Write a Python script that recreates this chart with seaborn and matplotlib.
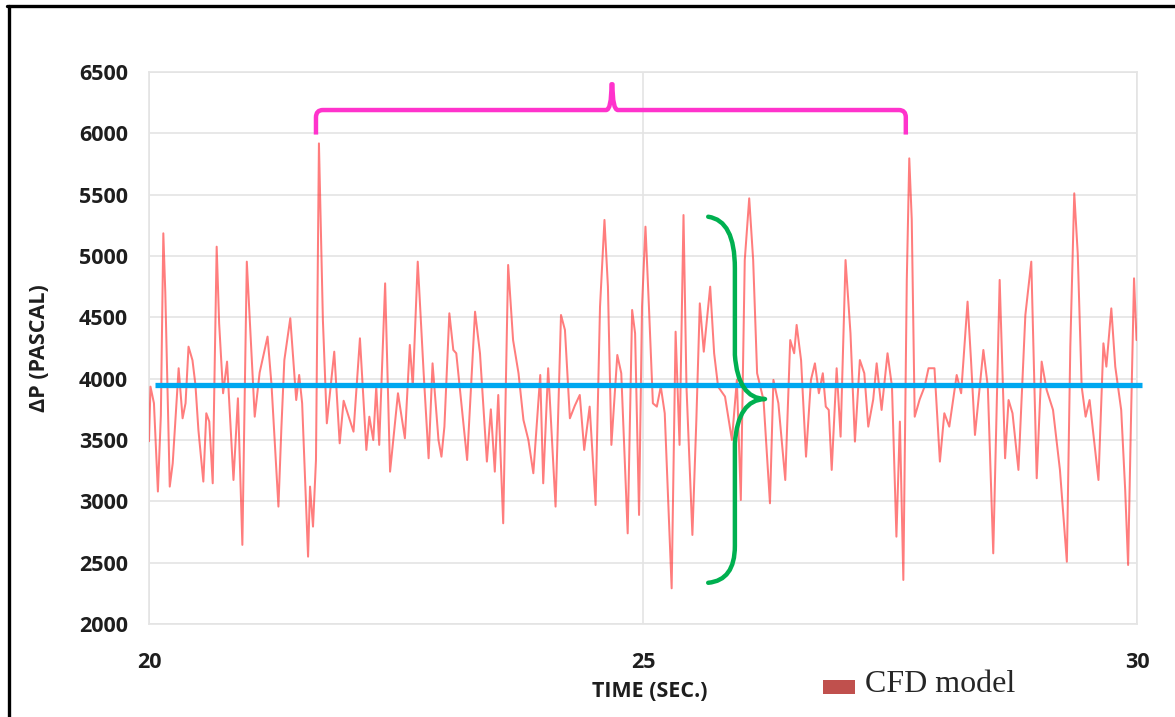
import numpy as np
import pandas as pd
import matplotlib
matplotlib.use("Agg")
import matplotlib.pyplot as plt
import seaborn as sns
from matplotlib.path import Path
from matplotlib.patches import PathPatch, Patch, Rectangle
from matplotlib.lines import Line2D
from matplotlib.legend_handler import HandlerPatch

# ---------------- data ----------------
time_s = [20.00, 20.015, 20.05, 20.09, 20.12, 20.145, 20.165, 20.21, 20.24, 20.30,
          20.34, 20.37, 20.40, 20.44, 20.47, 20.50, 20.55, 20.58, 20.61, 20.645,
          20.685, 20.71, 20.75, 20.79, 20.855, 20.90, 20.945, 20.99, 21.02, 21.07,
          21.12, 21.20, 21.24, 21.31, 21.34, 21.37, 21.43, 21.49, 21.52, 21.55,
          21.61, 21.63, 21.66, 21.69, 21.72, 21.76, 21.80, 21.875, 21.93, 21.97,
          22.07, 22.135, 22.20, 22.23, 22.27, 22.30, 22.33, 22.39, 22.44, 22.52,
          22.59, 22.64, 22.67, 22.72, 22.78, 22.83, 22.87, 22.93, 22.96, 22.99,
          23.04, 23.08, 23.11, 23.22, 23.30, 23.35, 23.42, 23.46, 23.50, 23.535,
          23.585, 23.635, 23.685, 23.74, 23.79, 23.84, 23.89, 23.96, 23.99, 24.04,
          24.115, 24.17, 24.21, 24.26, 24.31, 24.36, 24.405, 24.46, 24.52, 24.565,
          24.61, 24.645, 24.68, 24.74, 24.78, 24.845, 24.89, 24.92, 24.96, 24.99,
          25.025, 25.06, 25.10, 25.14, 25.18, 25.22, 25.29, 25.33, 25.37, 25.41,
          25.44, 25.50, 25.54, 25.575, 25.615, 25.68, 25.72, 25.76, 25.83, 25.90,
          25.95, 25.99, 26.03, 26.075, 26.115, 26.155, 26.22, 26.285, 26.32, 26.37,
          26.44, 26.49, 26.53, 26.555, 26.60, 26.65, 26.70, 26.74, 26.78, 26.82,
          26.85, 26.88, 26.91, 26.96, 27.00, 27.05, 27.10, 27.145, 27.195, 27.24,
          27.28, 27.33, 27.365, 27.415, 27.475, 27.52, 27.565, 27.60, 27.635, 27.67,
          27.695, 27.72, 27.75, 27.80, 27.85, 27.89, 27.95, 28.005, 28.05, 28.10,
          28.175, 28.22, 28.285, 28.32, 28.36, 28.445, 28.49, 28.545, 28.61, 28.665,
          28.70, 28.74, 28.80, 28.87, 28.93, 28.985, 29.035, 29.085, 29.15, 29.22,
          29.29, 29.325, 29.365, 29.40, 29.44, 29.48, 29.52, 29.61, 29.66, 29.69,
          29.74, 29.78, 29.84, 29.88, 29.91, 29.94, 29.97, 29.995]

delta_p = [3490, 3935, 3800, 3080, 3700, 5185, 4700, 3120, 3310, 4085,
           3677, 3800, 4261, 4150, 3950, 3582, 3161, 3718, 3650, 3147,
           5076, 4450, 3881, 4139, 3174, 3840, 2645, 4954, 4478, 3690,
           4050, 4343, 3950, 2957, 3600, 4152, 4492, 3826, 4030, 3800,
           2549, 3120, 2794, 3337, 5918, 4478, 3636, 4220, 3473, 3820,
           3568, 4329, 3419, 3690, 3500, 3935, 3460, 4777, 3242, 3881,
           3514, 4275, 3935, 4954, 4044, 3351, 4125, 3500, 3364, 3609,
           4533, 4234, 4207, 3337, 4546, 4207, 3324, 3750, 3242, 3867,
           2821, 4927, 4315, 4044, 3663, 3500, 3229, 4030, 3147, 4085,
           2957, 4519, 4397, 3677, 3780, 3867, 3419, 3772, 2970, 4587,
           5294, 4750, 3460, 4193, 4044, 2739, 4560, 4370, 2889, 4587,
           5239, 4587, 3799, 3772, 3935, 3718, 2291, 4383, 3460, 5334,
           3935, 2726, 3663, 4614, 4220, 4750, 4207, 3935, 3854, 3500,
           3990, 3011, 4967, 5470, 4967, 4044, 3826, 2984, 3990, 3800,
           3174, 4315, 4207, 4438, 4150, 3364, 3990, 4125, 3881, 4044,
           3772, 3745, 3256, 4085, 3527, 4967, 4370, 3487, 4152, 4044,
           3609, 3830, 4125, 3745, 4207, 3935, 2712, 3650, 2359, 4805,
           5796, 5300, 3690, 3830, 3935, 4085, 4085, 3324, 3718, 3609,
           4030, 3881, 4628, 4150, 3541, 4234, 3935, 2576, 4805, 3351,
           3826, 3718, 3256, 4519, 4954, 3188, 4139, 3910, 3745, 3256,
           2508, 4261, 5511, 5022, 3935, 3690, 3826, 3174, 4288, 4098,
           4573, 4098, 3745, 3100, 2481, 3700, 4818, 4315]

mean_dp = 3950
mean_span = [20.06, 30.05]

x_ticks = [20, 25, 30]
y_ticks = [2000, 2500, 3000, 3500, 4000, 4500, 5000, 5500, 6000, 6500]
series_label = "CFD model"
x_label = "TIME (SEC.)"
y_label = "ΔP (PASCAL)"

# annotation shapes (magenta bracket, green brace) in data units
brk_left, brk_right, brk_mid = 21.69, 27.66, 24.686
brk_level, brk_foot, brk_tip = 6190, 5990, 6400
brace_x0, brace_x1, brace_tip_x = 25.66, 25.93, 26.235
brace_top, brace_bot, brace_mid = 5320, 2336, 3834

# ---------------- figure ----------------
sns.set_theme(style="whitegrid")
plt.rcParams['font.family'] = ['Open Sans', 'DejaVu Sans']

W, H = 1175, 717
fig = plt.figure(figsize=(W / 100, H / 100), dpi=100)
fig.patch.set_facecolor("white")
ax = fig.add_axes([149 / W, 1 - 624 / H, (1137 - 149) / W, (624 - 72) / H])
ax.set_facecolor("white")

df = pd.DataFrame({"t": time_s, "dp": delta_p})
sns.lineplot(data=df, x="t", y="dp", ax=ax, estimator=None, sort=False,
             color="#FF2E2E", alpha=0.62, lw=1.45, zorder=3)

ax.plot(mean_span, [mean_dp, mean_dp], color="#00A8F0", lw=3.8,
        solid_capstyle="butt", clip_on=False, zorder=4)

ax.set_xlim(20, 30)
ax.set_ylim(2000, 6500)
ax.set_xticks(x_ticks)
ax.set_yticks(y_ticks)
ax.grid(True, color="#E4E4E4", lw=1.2)
for s in ax.spines.values():
    s.set_color("#E4E4E4")
    s.set_linewidth(1.2)
ax.tick_params(axis="both", length=0, labelcolor="#1E1E1E", labelsize=15.5)
ax.tick_params(axis="y", pad=15)
ax.tick_params(axis="x", pad=20)
for lab in ax.get_xticklabels() + ax.get_yticklabels():
    lab.set_fontweight("bold")

ax.set_xlabel(x_label, fontsize=15.5, fontweight="bold", color="#1E1E1E")
ax.set_ylabel(y_label, fontsize=15.5, fontweight="bold", color="#1E1E1E")
ax.xaxis.set_label_coords(0.507, -0.103)
ax.yaxis.set_label_coords(-0.1, 0.5)

# magenta bracket
r = 0.07
verts = [(brk_left, brk_foot), (brk_left, brk_level - 60),
         (brk_left, brk_level), (brk_left + r, brk_level),
         (brk_mid - 0.06, brk_level),
         (brk_mid - 0.005, brk_level), (brk_mid - 0.005, brk_tip),
         (brk_mid + 0.005, brk_tip),
         (brk_mid + 0.005, brk_level), (brk_mid + 0.06, brk_level),
         (brk_right - r, brk_level),
         (brk_right, brk_level), (brk_right, brk_level - 60),
         (brk_right, brk_foot)]
codes = [Path.MOVETO, Path.LINETO, Path.CURVE3, Path.CURVE3, Path.LINETO,
         Path.CURVE3, Path.CURVE3, Path.LINETO, Path.CURVE3, Path.CURVE3,
         Path.LINETO, Path.CURVE3, Path.CURVE3, Path.LINETO]
ax.add_patch(PathPatch(Path(verts, codes), fill=False, edgecolor="#FF33CC",
                       lw=3.2, capstyle="butt", joinstyle="round", zorder=5,
                       clip_on=False))

# green curly brace
gverts = [(brace_x0, brace_top),
          (brace_x1, brace_top - 30), (brace_x1, brace_top - 420),
          (brace_x1, brace_mid + 360),
          (brace_x1 + 0.03, brace_mid + 5), (brace_tip_x, brace_mid),
          (brace_x1 + 0.03, brace_mid - 5), (brace_x1, brace_mid - 360),
          (brace_x1, brace_bot + 300),
          (brace_x1, brace_bot + 20), (brace_x0, brace_bot)]
gcodes = [Path.MOVETO, Path.CURVE3, Path.CURVE3, Path.LINETO,
          Path.CURVE3, Path.CURVE3, Path.CURVE3, Path.CURVE3,
          Path.LINETO, Path.CURVE3, Path.CURVE3]
ax.add_patch(PathPatch(Path(gverts, gcodes), fill=False, edgecolor="#00B050",
                       lw=3.2, capstyle="round", joinstyle="round", zorder=5))


# legend: the swatch sits low, near the text baseline
def low_swatch(legend, orig_handle, xdescent, ydescent, width, height, fontsize):
    return Rectangle((-xdescent, -ydescent - 5.2), width, height)


leg = fig.legend(handles=[Patch(facecolor="#C0504D", edgecolor="none",
                                label=series_label)],
                 loc="center left", bbox_to_anchor=(823 / W, 1 - 684 / H),
                 frameon=False, borderpad=0, borderaxespad=0,
                 handlelength=1.0, handleheight=0.28, handletextpad=0.3,
                 handler_map={Patch: HandlerPatch(patch_func=low_swatch)},
                 prop={"family": "Liberation Serif", "size": 23})

# outer black frame (left and top edges visible in the reference)
fig.add_artist(Line2D([8.5 / W, 8.5 / W], [0, 1 - 6 / H], color="black",
                      lw=2.4, transform=fig.transFigure))
fig.add_artist(Line2D([7.3 / W, 1], [1 - 6 / H, 1 - 6 / H], color="black",
                      lw=2.4, transform=fig.transFigure))

fig.savefig("out.png", dpi=100, facecolor="white")
